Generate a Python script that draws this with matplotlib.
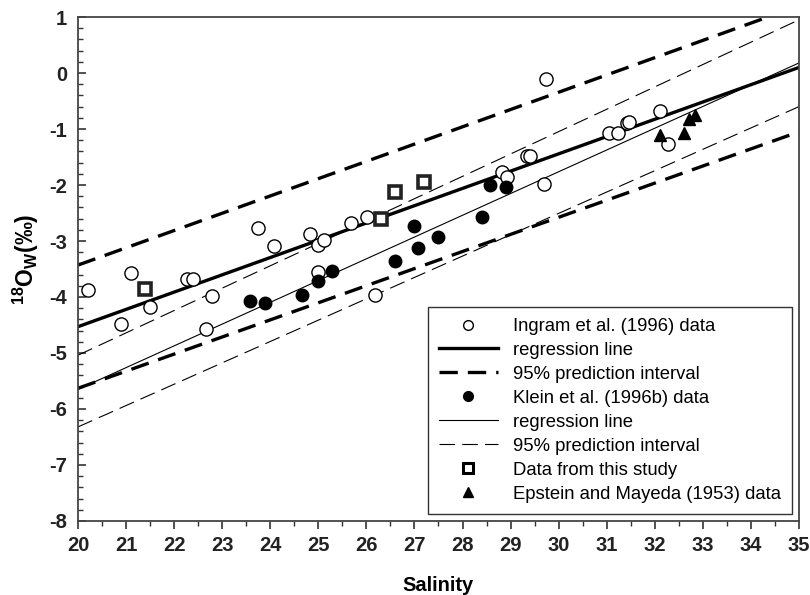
import matplotlib
matplotlib.use('Agg')
import matplotlib.pyplot as plt
from matplotlib.lines import Line2D
from matplotlib.ticker import MultipleLocator

plt.rcParams['font.family'] = ['Liberation Sans', 'DejaVu Sans']
plt.rcParams['axes.unicode_minus'] = False
plt.rcParams['mathtext.fontset'] = 'custom'
plt.rcParams['mathtext.rm'] = 'Liberation Sans:bold'
plt.rcParams['mathtext.it'] = 'Liberation Sans:bold'
plt.rcParams['mathtext.bf'] = 'Liberation Sans:bold'
plt.rcParams['mathtext.default'] = 'rm'

# Ingram et al. (1996) data
ingram_sal = [20.2, 20.9, 21.1, 21.5, 22.26, 22.4, 22.67, 22.78, 23.75, 24.08,
              24.83, 25.0, 25.0, 25.11, 25.67, 26.01, 26.17, 28.83, 28.93, 29.35,
              29.4, 29.69, 29.74, 31.05, 31.24, 31.42, 31.47, 32.11, 32.28]
ingram_d18o = [-3.88, -4.48, -3.57, -4.18, -3.68, -3.68, -4.57, -3.98, -2.76, -3.09,
               -2.87, -3.08, -3.56, -2.98, -2.68, -2.57, -3.97, -1.76, -1.86, -1.48,
               -1.48, -1.99, -0.11, -1.08, -1.08, -0.9, -0.87, -0.67, -1.27]

# Klein et al. (1996b) data
klein_sal = [23.58, 23.89, 24.67, 24.99, 25.28, 26.59, 26.99, 27.08, 27.49,
             28.4, 28.58, 28.9]
klein_d18o = [-4.08, -4.11, -3.97, -3.71, -3.54, -3.35, -2.74, -3.12, -2.93,
              -2.57, -2.0, -2.03]

# this study
study_sal = [21.39, 26.31, 26.6, 27.2]
study_d18o = [-3.86, -2.6, -2.13, -1.94]

# Epstein and Mayeda (1953)
epstein_sal = [32.11, 32.61, 32.72, 32.83]
epstein_d18o = [-1.1, -1.08, -0.83, -0.75]

# regression lines and prediction intervals, end points at salinity 20 and 35
line_sal = [20, 35]
ingram_fit = [-4.53, 0.1]
ingram_upper = [-3.43, 1.2]
ingram_lower = [-5.63, -1.05]
klein_fit = [-5.65, 0.18]
klein_upper = [-5.04, 0.95]
klein_lower = [-6.32, -0.6]

fig = plt.figure(figsize=(8.1, 5.95), dpi=100)
ax = fig.add_axes([0.0963, 0.1244, 0.8901, 0.847])

thick = 2.4
thin = 0.8
thick_dash = (5.5, 3.0)
thin_dash = (14, 6.5)

ax.plot(line_sal, ingram_fit, color='black', lw=thick, zorder=2)
ax.plot(line_sal, ingram_upper, color='black', lw=thick, dashes=thick_dash, zorder=2)
ax.plot(line_sal, ingram_lower, color='black', lw=thick, dashes=thick_dash, zorder=2)
ax.plot(line_sal, klein_fit, color='black', lw=thin, zorder=2)
ax.plot(line_sal, klein_upper, color='black', lw=thin, dashes=thin_dash, zorder=2)
ax.plot(line_sal, klein_lower, color='black', lw=thin, dashes=thin_dash, zorder=2)

ax.plot(ingram_sal, ingram_d18o, 'o', ms=9.5, mfc='white', mec='black', mew=1.0,
        zorder=3)
ax.plot(klein_sal, klein_d18o, 'o', ms=9, mfc='black', mec='black', zorder=3)
ax.plot(study_sal, study_d18o, 's', ms=9, mfc='white', mec='#222222', mew=2.6,
        zorder=4)
ax.plot(epstein_sal, epstein_d18o, '^', ms=9, mfc='black', mec='black', zorder=4)

ax.set_xlim(20, 35)
ax.set_ylim(-8, 1)
ax.xaxis.set_major_locator(MultipleLocator(1))
ax.xaxis.set_minor_locator(MultipleLocator(0.5))
ax.yaxis.set_major_locator(MultipleLocator(1))
ax.yaxis.set_minor_locator(MultipleLocator(0.2))

ax.tick_params(axis='x', which='both', direction='out', colors='#333333',
               labelcolor='#222222')
ax.tick_params(axis='x', which='major', length=6, width=1.2, pad=5)
ax.tick_params(axis='x', which='minor', length=3.5, width=1.0)
ax.tick_params(axis='y', which='both', direction='in', colors='#333333',
               labelcolor='#222222')
ax.tick_params(axis='y', which='major', length=6, width=1.2, pad=8)
ax.tick_params(axis='y', which='minor', length=3.5, width=1.0)
for lab in ax.get_xticklabels() + ax.get_yticklabels():
    lab.set_fontsize(14.5)
    lab.set_fontweight('bold')

for sp in ax.spines.values():
    sp.set_color('#444444')
    sp.set_linewidth(1.3)

ax.set_xlabel('Salinity', fontsize=14.5, fontweight='bold', labelpad=15)
ax.set_ylabel('$^{18}$O$_W$(‰)', fontsize=16.5, fontweight='bold')
ax.yaxis.set_label_coords(-0.052, 0.52)

handles = [
    Line2D([], [], ls='none', marker='o', ms=7, mfc='white', mec='black', mew=1.0),
    Line2D([], [], color='black', lw=thick),
    Line2D([], [], color='black', lw=thick, dashes=(5.5, 3.0)),
    Line2D([], [], ls='none', marker='o', ms=7, mfc='black', mec='black'),
    Line2D([], [], color='black', lw=thin),
    Line2D([], [], color='black', lw=thin, dashes=thin_dash),
    Line2D([], [], ls='none', marker='s', ms=7, mfc='white', mec='black', mew=2.2),
    Line2D([], [], ls='none', marker='^', ms=7, mfc='black', mec='black'),
]
labels = ['Ingram et al. (1996) data', 'regression line', '95% prediction interval',
          'Klein et al. (1996b) data', 'regression line', '95% prediction interval',
          'Data from this study', 'Epstein and Mayeda (1953) data']
leg = ax.legend(handles, labels, loc='lower right', fontsize=13.3, frameon=True,
                fancybox=False, edgecolor='#333333', framealpha=1,
                handlelength=3.2, handletextpad=0.8, labelspacing=0.375,
                borderaxespad=0.4, borderpad=0.6)
leg.get_frame().set_linewidth(1.0)
leg.set_zorder(5)

fig.savefig('out.png', dpi=100)
